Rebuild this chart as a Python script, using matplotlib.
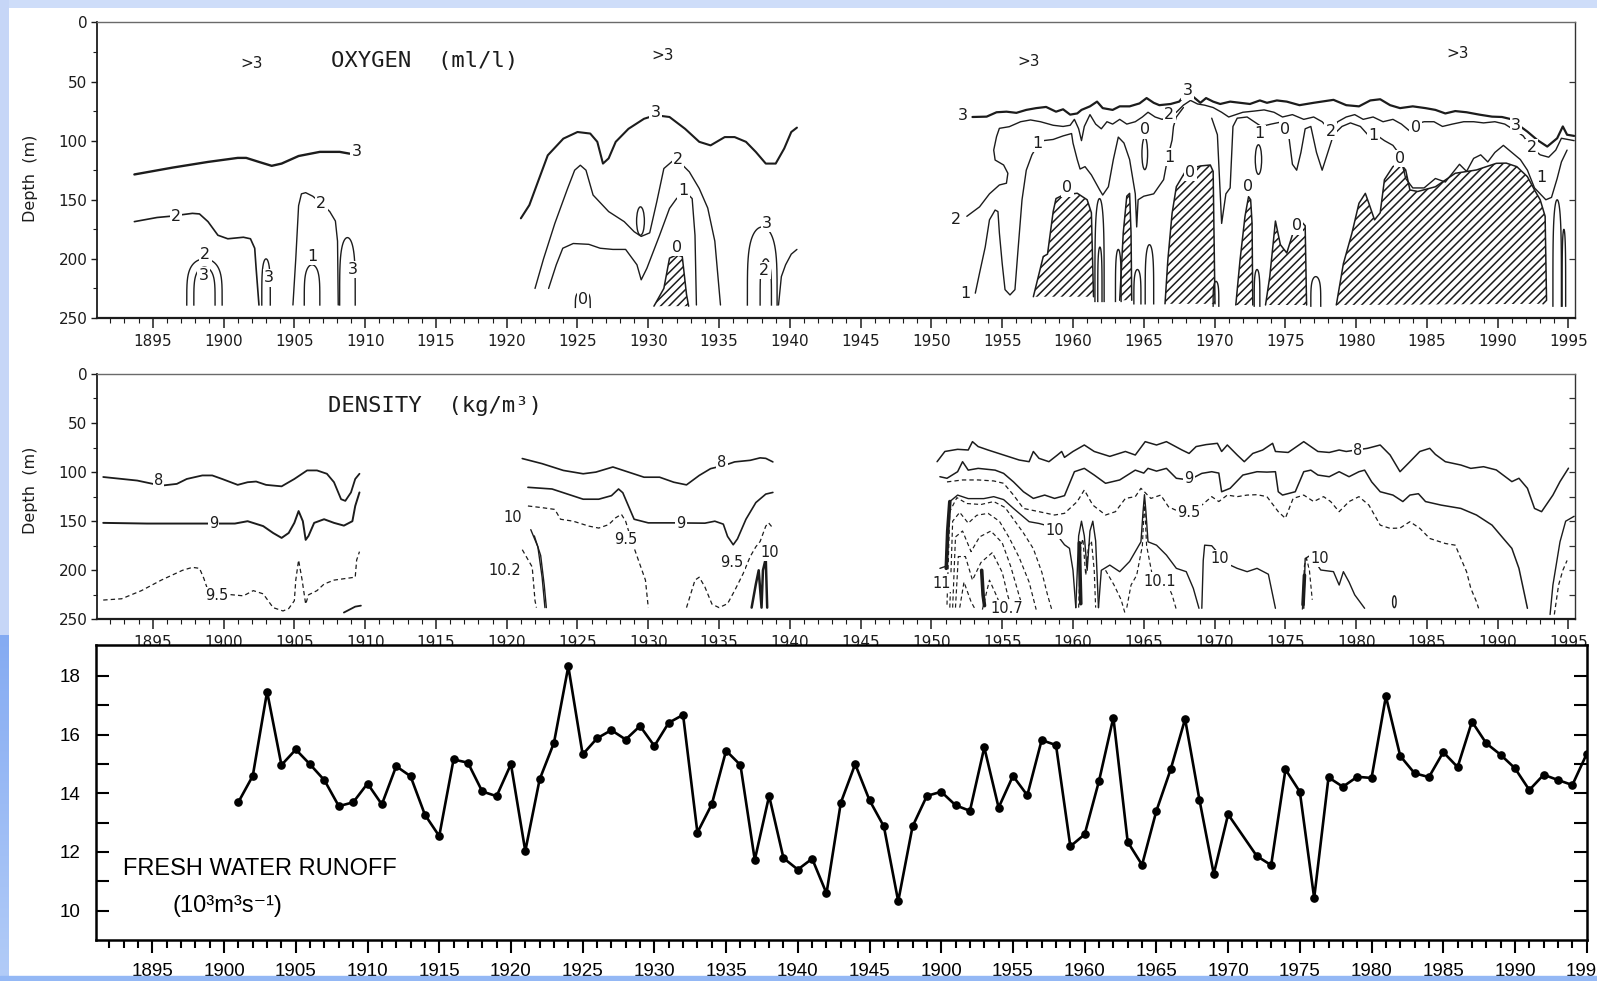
import numpy as np
import matplotlib.pyplot as plt
from matplotlib.patches import Ellipse, Rectangle

W, H = 1597, 981
INK = '#1c1c1c'
plt.rcParams['font.family'] = ['DejaVu Sans']
plt.rcParams['hatch.linewidth'] = 1.1
plt.rcParams['hatch.color'] = INK

# ---------------- RUNOFF DATA ---------------- #
runoff_years = list(range(1901, 1971)) + list(range(1972, 1996))
runoff = [13.70, 14.59, 17.46, 14.96, 15.49, 14.98, 14.44, 13.56, 13.69, 14.33,
          13.62, 14.92, 14.58, 13.27, 12.54, 15.15, 15.04, 14.06, 13.90, 14.99,
          12.03, 14.47, 15.72, 18.32, 15.32, 15.87, 16.15, 15.83, 16.29, 15.61,
          16.40, 16.67, 12.66, 13.62, 15.45, 14.96, 11.73, 13.91, 11.79, 11.40,
          11.77, 10.59, 13.68, 14.99, 13.76, 12.87, 10.32, 12.87, 13.91, 14.05,
          13.59, 13.40, 15.56, 13.51, 14.59, 13.93, 15.81, 15.64, 12.19, 12.60,
          14.42, 16.58, 12.34, 11.56, 13.40, 14.82, 16.53, 13.78, 11.25, 13.28,
          11.86, 11.55, 14.81, 14.05, 10.43, 14.54, 14.22, 14.56, 14.52, 17.30,
          15.27, 14.68, 14.55, 15.40, 14.89, 16.44, 15.70, 15.31, 14.85, 14.11,
          14.63, 14.45, 14.28, 15.34]
year_ticks = list(range(1895, 1996, 5))
runoff_xlabels = ['1895', '1900', '1905', '1910', '1915', '1920', '1925', '1930',
                  '1935', '1940', '1945', '1900', '1955', '1960', '1965', '1970',
                  '1975', '1980', '1985', '1990', '1995']

# ---------------- OXYGEN CONTOURS (year, depth m) ---------------- #
ox1_c3 = [(1893.7, 128.6), (1896.4, 122.8), (1898.9, 118), (1901, 114.6), (1901.6, 114.6),
          (1902.5, 118), (1903.4, 121.3), (1904.1, 119.4), (1905.3, 113), (1906.8, 109.5),
          (1908.2, 109.5), (1908.9, 111)]
ox1_c2 = [(1893.7, 168.5), (1895.3, 165), (1896.2, 164), (1897.8, 161.5), (1898.3, 162),
          (1898.9, 168.5), (1899.6, 180), (1900.3, 183), (1901.4, 181.7), (1901.9, 183),
          (1902.2, 191), (1902.3, 208), (1902.5, 239)]
ox1_c2b = [(1904.9, 239), (1905.1, 200), (1905.3, 155), (1905.5, 145), (1905.8, 144),
           (1906.3, 147), (1906.9, 153), (1907.5, 160), (1907.9, 168), (1908.05, 185),
           (1908.1, 239)]
ox2_c3 = [(1921, 165.7), (1921.6, 154.5), (1922.2, 135), (1922.9, 112.4), (1924, 98.3),
          (1925, 92.7), (1925.9, 94), (1926.4, 101), (1926.8, 119.4), (1927.2, 115),
          (1927.7, 101), (1928.6, 90), (1929.7, 81.5), (1930.5, 78.5), (1931.5, 80),
          (1932.6, 90), (1933.6, 101), (1934.4, 104), (1935.4, 97), (1936.1, 97),
          (1936.9, 101), (1937.6, 109.6), (1938.3, 119.4), (1939, 119.4), (1939.6, 106.7),
          (1940.1, 92.7), (1940.5, 89)]
ox2_c2 = [(1922, 225), (1922.6, 200), (1923.4, 170), (1924.3, 140.5), (1924.8, 125),
          (1925.2, 120.8), (1925.6, 125), (1926.1, 146), (1927.2, 160), (1928.3, 168.5),
          (1929, 177), (1929.5, 181), (1930.1, 178), (1930.6, 151.7), (1931.1, 123.6),
          (1931.7, 117.4), (1932.2, 118), (1932.9, 126.4), (1933.6, 140.5), (1934.2, 157),
          (1934.7, 185), (1935.1, 239)]
ox2_c1 = [(1922.96, 225), (1923.5, 205), (1923.96, 191), (1924.7, 187), (1925.8, 187.7),
          (1926.6, 191), (1927.5, 192), (1928.4, 192), (1929.2, 205), (1929.5, 217.7),
          (1929.9, 208), (1930.8, 180), (1931.5, 157.3), (1932, 149), (1932.6, 143),
          (1933.1, 149), (1933.3, 180), (1933.4, 239)]
ox2_tail = [(1939.2, 239), (1939.4, 215), (1939.7, 205), (1940.1, 196), (1940.5, 192)]
ox3_c3 = [(1952.9, 80), (1953.9, 79.7), (1954.6, 76), (1955.3, 75.5), (1956, 76.5),
          (1956.7, 74), (1957.4, 72.5), (1958.1, 71.5), (1958.8, 75.5), (1959.3, 73.5),
          (1959.8, 78), (1960.3, 77), (1960.6, 74), (1961.2, 71), (1961.7, 67),
          (1962.1, 72.5), (1962.8, 74), (1963.3, 71), (1964, 71), (1964.7, 68.5),
          (1965.2, 64), (1965.7, 68), (1966.1, 70), (1966.9, 69), (1967.5, 67), (1968, 60),
          (1968.5, 63), (1969, 68), (1969.4, 64), (1969.9, 67), (1970.4, 69), (1971.1, 67),
          (1971.8, 68), (1972.5, 69), (1973.2, 66), (1973.7, 68), (1974.4, 66),
          (1975.1, 67), (1976, 70), (1977, 68), (1978.4, 65.5), (1979.3, 70), (1980.2, 71),
          (1981, 66), (1981.7, 65), (1982.4, 70), (1983.1, 72.5), (1984, 71),
          (1984.9, 72.5), (1985.6, 74), (1986.3, 77), (1987, 75), (1987.8, 76),
          (1988.7, 78), (1989.6, 79.7), (1990.3, 80), (1991, 82), (1991.6, 88),
          (1992.1, 92.4), (1992.8, 99.5), (1993.5, 105), (1994.2, 98), (1994.6, 88),
          (1994.9, 95), (1995.4, 96)]
ox3_c2 = [(1952.5, 164), (1953.4, 156), (1954.1, 145), (1954.8, 137.5), (1955.3, 136),
          (1955.4, 127.6), (1955.1, 120.6), (1954.5, 116.4), (1954.4, 108), (1954.6, 96.6),
          (1954.8, 89.6), (1955.5, 88.2), (1956.3, 84), (1957, 82.5), (1957.7, 84),
          (1958.6, 87), (1959.3, 88), (1959.8, 87), (1960.1, 82), (1960.4, 90),
          (1960.6, 100), (1960.8, 88), (1961.2, 78), (1961.6, 86), (1962, 90),
          (1962.4, 84), (1962.8, 86), (1963.3, 82), (1963.8, 86), (1964.4, 84),
          (1964.9, 80), (1965.3, 76), (1965.8, 80), (1966.3, 82), (1966.7, 80),
          (1967.3, 76), (1967.8, 70), (1968.3, 66), (1968.8, 69), (1969.3, 70),
          (1969.9, 72), (1970.5, 76), (1971, 80), (1971.5, 78), (1972, 76), (1972.8, 75),
          (1973.5, 74), (1974.2, 76), (1974.8, 80), (1975.5, 78), (1976.3, 82), (1977, 80),
          (1977.6, 84), (1978.2, 92), (1978.7, 84), (1979.3, 80), (1979.9, 78),
          (1980.5, 82), (1981.2, 80), (1981.9, 84), (1982.6, 82), (1983.2, 86),
          (1983.8, 92), (1984.2, 86), (1984.8, 84), (1985.5, 84), (1986.1, 88),
          (1986.8, 86), (1987.6, 84), (1988.3, 84), (1989, 85), (1989.8, 84),
          (1990.5, 86), (1991.3, 92), (1991.8, 96), (1992.4, 106), (1993, 112),
          (1993.6, 114), (1994.1, 108), (1994.5, 98), (1995.4, 100)]
ox3_c1a = [(1953.1, 229), (1953.4, 212), (1953.8, 190), (1954.1, 167), (1954.5, 158.7),
           (1954.7, 160), (1954.8, 178), (1955, 204), (1955.2, 226), (1955.55, 230.5),
           (1955.9, 226), (1956.1, 195), (1956.4, 150), (1956.7, 125), (1957.1, 112),
           (1957.5, 104), (1957.9, 100), (1958.6, 99), (1959.3, 96), (1959.9, 94),
           (1960, 102), (1960.3, 116), (1960.5, 124), (1960.85, 122), (1961.3, 129),
           (1961.9, 142), (1962.1, 146), (1962.5, 139), (1962.85, 116), (1963.2, 97),
           (1963.6, 102), (1964, 116), (1964.4, 145), (1964.5, 173), (1964.6, 150),
           (1965, 147), (1965.7, 145), (1966.4, 133), (1966.7, 114), (1967, 99.5),
           (1967.1, 88), (1967.3, 80), (1967.8, 72)]
ox3_c1b = [(1969.8, 81), (1970.2, 95), (1970.5, 170), (1970.8, 145), (1971.1, 140),
           (1971.3, 88), (1971.6, 81), (1972.3, 80), (1972.8, 84), (1973.3, 88),
           (1974, 86), (1974.8, 84), (1975.2, 92), (1975.5, 120), (1975.8, 125),
           (1976.1, 110), (1976.4, 90), (1976.8, 88), (1977.2, 110), (1977.6, 125),
           (1978, 110), (1978.4, 95), (1979, 88), (1979.6, 85), (1980.3, 88), (1980.9, 96),
           (1981.4, 95), (1982, 100), (1982.6, 104), (1983.1, 112), (1983.5, 132),
           (1984, 140), (1984.8, 140), (1985.6, 132), (1986.3, 135), (1986.9, 126),
           (1987.3, 120), (1987.8, 126), (1988.3, 115), (1988.8, 112), (1989.3, 118),
           (1989.8, 110), (1990.4, 104), (1991, 110), (1991.6, 116), (1992.1, 125),
           (1992.6, 140), (1993, 145), (1993.4, 150), (1993.8, 148), (1994.2, 132),
           (1994.5, 118), (1994.9, 108)]

# anoxic (0 ml/l) areas, traced from the left foot round to the right foot
ox_zero = [
    [(1930.4, 240), (1931.1, 225), (1931.5, 199.4), (1932, 196.6), (1932.4, 198),
     (1932.7, 230), (1932.85, 240)],
    [(1957.2, 232), (1957.9, 198), (1958.2, 196), (1958.6, 160), (1958.8, 149),
     (1959.3, 146), (1960.3, 144.5), (1961, 150), (1961.3, 161), (1961.45, 232)],
    [(1963.3, 235), (1963.55, 178), (1963.8, 147), (1964, 144.6), (1964.1, 178),
     (1964.15, 235)],
    [(1966.5, 238), (1966.7, 201), (1967, 161.5), (1967.3, 139), (1968, 124.8),
     (1969, 121.4), (1969.7, 120.6), (1969.9, 126), (1970.03, 238)],
    [(1971.5, 239), (1971.8, 201), (1972.15, 164), (1972.4, 147.4), (1972.55, 150),
     (1972.65, 170), (1972.7, 239)],
    [(1973.6, 239), (1973.9, 215), (1974.3, 168), (1974.65, 188), (1975.1, 195),
     (1975.7, 172), (1976.1, 168), (1976.4, 172), (1976.5, 239)],
    [(1978.6, 239), (1979.1, 204), (1979.7, 178.4), (1980.2, 153), (1980.65, 144.6),
     (1980.9, 153), (1981.3, 167), (1981.7, 161), (1982, 133), (1982.6, 122),
     (1983.1, 119), (1983.5, 124.8), (1983.8, 141.7), (1984.35, 143), (1985.6, 139),
     (1987, 127.6), (1988.5, 124.8), (1989.9, 119.2), (1990.6, 119), (1991.35, 122),
     (1992.1, 130.5), (1992.6, 141.7), (1993, 150), (1993.35, 164), (1993.45, 235),
     (1993.2, 238)],
]
# narrow tongues rising from the bottom: left year, right year, top depth, foot depth
ox_arches = [(1897.4, 1899.9, 200, 239), (1897.9, 1899.4, 207, 239),
             (1902.7, 1903.3, 200, 239), (1905.7, 1906.8, 205, 239),
             (1908.2, 1909.3, 182, 239), (1924.85, 1925.9, 227, 241),
             (1937.0, 1939.1, 173, 239), (1937.9, 1938.7, 200, 239),
             (1961.55, 1962.2, 149, 236), (1961.75, 1962.05, 190, 236),
             (1963.0, 1963.4, 192, 236), (1964.3, 1964.8, 209, 238),
             (1965.1, 1965.7, 188, 238), (1969.9, 1970.3, 219, 240),
             (1972.8, 1973.2, 209, 240), (1976.8, 1977.5, 215, 240),
             (1993.9, 1994.5, 150, 240), (1994.55, 1994.8, 175, 240)]
ox_loops = [(1929.45, 168, 0.55, 24), (1965.07, 111, 0.4, 27), (1973.1, 116, 0.45, 25)]
ox_tags = [('3', 1909.4, 109), ('2', 1896.65, 164), ('2', 1898.7, 196), ('3', 1898.6, 214),
           ('3', 1903.2, 216), ('2', 1906.9, 153), ('1', 1906.3, 198), ('3', 1909.1, 209),
           ('3', 1930.5, 76), ('2', 1932.1, 116), ('1', 1932.5, 142), ('0', 1932, 190),
           ('3', 1938.4, 170), ('2', 1938.2, 210), ('0', 1925.4, 234),
           ('3', 1952.2, 79), ('3', 1968.1, 58), ('2', 1966.8, 78), ('1', 1957.5, 102),
           ('1', 1966.8, 114), ('2', 1951.7, 167), ('1', 1952.4, 229), ('0', 1959.6, 140),
           ('0', 1968.3, 127), ('0', 1972.4, 139), ('0', 1975.8, 172), ('0', 1983.1, 115),
           ('0', 1984.2, 89), ('0', 1965.1, 91), ('0', 1975.0, 91), ('1', 1973.2, 94),
           ('1', 1981.2, 96), ('1', 1993.1, 131), ('2', 1978.2, 92), ('2', 1992.4, 106),
           ('3', 1991.3, 87)]
ox_surface = [(1902.0, 35), (1931.0, 28), (1956.9, 33), (1987.2, 26)]

# ---------------- DENSITY CONTOURS (year, depth m) ---------------- #
de1_c8 = [(1891.5, 105), (1893.9, 108.6), (1895.6, 113.8), (1896.7, 112), (1897.4, 107),
          (1898.5, 103.4), (1899.2, 103.4), (1899.9, 107), (1901, 113), (1901.7, 110.3),
          (1902.3, 109.6), (1903, 113), (1904.1, 114.5), (1905, 107), (1905.9, 98.3),
          (1906.6, 98.3), (1907.3, 101.7), (1907.8, 110.3), (1908.3, 127.6),
          (1908.6, 129.3), (1909, 120.7), (1909.3, 107), (1909.6, 101.7)]
de1_c9 = [(1891.5, 151.7), (1894.6, 152.4), (1897.8, 152.4), (1900.8, 152.4),
          (1901.7, 150), (1902.8, 155), (1903.5, 162), (1904.1, 167), (1904.6, 162),
          (1905, 151.7), (1905.3, 139.7), (1905.6, 150), (1905.8, 169), (1906, 165),
          (1906.4, 151.7), (1907.1, 148), (1907.8, 151.7), (1908.5, 154.5), (1909.1, 150),
          (1909.3, 134.5), (1909.6, 120.7)]
de1_c95 = [(1891.5, 230.3), (1892.8, 229), (1894.2, 220.7), (1895.6, 210), (1897.1, 200),
           (1897.8, 197), (1898.3, 198), (1898.6, 208), (1898.9, 220.7), (1899.9, 224),
           (1901.4, 226), (1902.1, 220.7), (1902.8, 224), (1903.5, 238), (1904.2, 241.4),
           (1904.6, 239), (1905, 231), (1905.1, 210), (1905.3, 189.6), (1905.55, 210),
           (1905.8, 234.5), (1906, 225), (1906.6, 220.7), (1907.1, 214), (1907.8, 210),
           (1908.5, 208.6), (1909.3, 207), (1909.4, 189.6), (1909.6, 181)]
de1_stub = [(1908.5, 243), (1909.3, 237), (1909.7, 236)]
de2_c8 = [(1921.1, 86.2), (1922.5, 91.4), (1924, 98.3), (1925.4, 101.7), (1926.3, 100),
          (1927.5, 94.8), (1928.6, 100), (1929.7, 105.2), (1930.8, 105.2), (1931.8, 110.3),
          (1932.7, 113), (1933.6, 103.4), (1934.4, 96.5), (1935.4, 93), (1936.1, 89.6),
          (1937.2, 88), (1937.9, 85.5), (1938.3, 86), (1938.8, 89.6)]
de2_c9 = [(1921.5, 115.5), (1923.2, 117.2), (1924.3, 122.4), (1925.4, 127.6),
          (1926.5, 127.6), (1927.4, 124), (1927.9, 117.2), (1928.2, 121), (1928.6, 134.5),
          (1929, 148), (1930, 151.7), (1931.8, 151.7), (1934, 152), (1934.7, 150),
          (1935.3, 153), (1935.6, 165.5), (1936, 174), (1936.3, 168), (1936.9, 148),
          (1937.6, 131), (1938.3, 122.4), (1938.8, 120.7)]
de2_c95 = [(1921.5, 134.5), (1922.5, 136.2), (1923.4, 138), (1923.8, 148),
           (1924.7, 150), (1925.8, 155), (1926.5, 157), (1927.2, 153.5), (1927.7, 146.5),
           (1928.1, 143), (1928.4, 150), (1928.8, 169), (1929.3, 189.6), (1929.8, 210),
           (1930, 238)]
de2_c95b = [(1932.7, 238), (1933.3, 210), (1933.6, 207), (1934, 217), (1934.5, 234.5),
            (1935, 238), (1935.6, 234), (1936.1, 220.7), (1936.7, 203.4), (1937.2, 186),
            (1937.6, 176), (1937.9, 170.7), (1938.3, 155), (1938.5, 151.7), (1938.8, 157)]
de2_c10 = [(1921.7, 158.6), (1922.2, 176), (1922.5, 207), (1922.7, 238)]
de2_c10b = [(1921.95, 165), (1922.4, 185), (1922.65, 215), (1922.8, 238)]
de2_c102 = [(1921.1, 179), (1921.8, 196.6), (1922, 231), (1922.1, 238)]
de2_deep = [(1937.3, 238), (1937.6, 214), (1937.8, 200), (1938.0, 238), (1938.1, 200),
            (1938.3, 188), (1938.4, 238)]
de3_c8 = [(1950.4, 89.4), (1950.95, 79), (1951.85, 76.8), (1952.6, 77.5), (1952.9, 69),
          (1953.3, 74), (1954, 77.5), (1955.1, 82.6), (1956.2, 87.7), (1956.9, 89.4),
          (1957.2, 79), (1957.6, 86), (1958.3, 89.4), (1958.9, 82.6), (1959.2, 79),
          (1959.4, 85), (1960, 79), (1960.8, 72.4), (1961.5, 79), (1962.6, 84),
          (1963.7, 79), (1964.4, 82.6), (1965.1, 69), (1965.9, 72.4), (1966.6, 69),
          (1967.7, 77.5), (1968.2, 81), (1968.7, 74), (1969.4, 72), (1970.2, 70.7),
          (1970.5, 79), (1970.9, 72.4), (1971.6, 82.6), (1972.1, 89.4), (1972.7, 81),
          (1973.4, 77.5), (1974.1, 70.7), (1974.3, 79), (1975.2, 80), (1976.3, 69),
          (1976.6, 72), (1977.3, 79), (1978.1, 80), (1978.8, 77.5), (1979.3, 79),
          (1980.8, 75.8), (1981.7, 72.4), (1982.4, 82.6), (1983.1, 99.6), (1983.8, 89.4),
          (1984.5, 79), (1985.2, 75.8), (1985.6, 82), (1986.3, 89.4), (1987.4, 92.8),
          (1988.1, 96.2), (1989, 94.5), (1989.9, 97.8), (1991, 109.7), (1991.5, 106.3),
          (1992.1, 116.5), (1992.6, 137), (1993.1, 140.3), (1993.9, 123.4),
          (1994.4, 109.7), (1995, 96)]
de3_c9 = [(1950.6, 104.7), (1951.1, 106.3), (1951.85, 99.6), (1952.2, 89.4),
          (1952.6, 98), (1953.3, 96.2), (1954.5, 98), (1955.1, 101.3), (1955.8, 110),
          (1956.5, 120), (1957.2, 126.8), (1958, 123.4), (1958.7, 126.8), (1959.4, 124),
          (1960.1, 99.6), (1960.8, 96.2), (1961.5, 103), (1962.3, 111.4), (1963.3, 108),
          (1964.4, 98), (1965, 101), (1965.3, 96.2), (1965.9, 99), (1966.6, 96.2),
          (1967.3, 106.3), (1968.2, 108), (1969.1, 101.3), (1969.8, 99.6), (1970.3, 101),
          (1970.5, 120), (1971.1, 116.5), (1972, 103), (1973, 99.6), (1973.7, 100),
          (1974.3, 99.6), (1974.5, 120), (1974.8, 123.4), (1975.7, 120), (1976.3, 99.6),
          (1976.8, 98), (1977.3, 103), (1978.1, 104.7), (1978.8, 99.6), (1979.5, 104.7),
          (1980.2, 99.6), (1980.6, 98), (1981.1, 110), (1981.7, 120), (1982.6, 123.4),
          (1983.3, 130), (1983.8, 123.4), (1984.4, 122), (1984.9, 130), (1986, 133.6),
          (1987.4, 137), (1988.5, 143.7), (1989.6, 154), (1990.4, 167.6), (1991, 177.7),
          (1991.5, 198), (1991.9, 225), (1992.1, 238.7)]
de3_c9_edge = [(1993.7, 245), (1993.9, 215), (1994.4, 171), (1994.8, 150), (1995.4, 145)]
de3_c95 = [(1951.1, 110), (1952.2, 108), (1953.3, 108), (1954.4, 109), (1955.1, 111.4),
           (1955.8, 123.4), (1956.5, 137), (1957.6, 140.3), (1958.7, 143.7),
           (1959.4, 142), (1960.3, 130), (1960.8, 118.2), (1961.4, 133.6), (1962.3, 143.7),
           (1963, 140.3), (1963.7, 126.8), (1964.4, 125), (1964.8, 116.5), (1965.5, 126.8),
           (1966.2, 123.4), (1966.75, 135.4), (1967.5, 140.3), (1968.2, 141),
           (1969.1, 133.6), (1969.8, 125), (1970.3, 130), (1970.9, 123.4), (1971.6, 125),
           (1972.3, 123.4), (1973, 123), (1973.7, 125), (1974.5, 140.3), (1975, 147),
           (1975.55, 126.8), (1976.3, 123.4), (1977, 130), (1977.7, 125), (1978.2, 130),
           (1978.8, 140.3), (1979.5, 130), (1980.2, 125), (1980.9, 133.6), (1981.7, 154),
           (1982.4, 157.3), (1983.1, 157), (1983.8, 150.5), (1984.5, 157.3),
           (1985.2, 167.6), (1986.3, 172.7), (1987, 174.4), (1987.4, 188), (1987.8, 201.4),
           (1988.1, 218.4), (1988.5, 232), (1988.65, 238.7)]
de3_c95_edge = [(1994.0, 245), (1994.3, 215), (1994.6, 200), (1994.9, 190)]
de3_c10 = [
    [(1950.6, 198), (1951.0, 196), (1951.3, 130), (1951.85, 123.4), (1952.6, 127),
     (1953.7, 127), (1954.4, 125), (1955.1, 128), (1955.8, 137), (1956.9, 150.5),
     (1957.6, 152.3), (1958.3, 155), (1958.7, 160.7), (1959.4, 174), (1959.75, 177.6),
     (1960.0, 200), (1960.2, 238)],
    [(1961.8, 238), (1962, 200), (1962.6, 194.7), (1963.3, 201.4), (1964, 191),
     (1964.8, 171), (1964.95, 140), (1965.05, 123), (1965.15, 140), (1965.3, 171),
     (1965.9, 174.4), (1966.6, 184.5), (1967.3, 198), (1968, 201.4), (1968.5, 218.4),
     (1968.9, 238.7)],
    [(1969.1, 238.7), (1969.2, 190), (1969.3, 174.4), (1969.8, 175), (1970.4, 185),
     (1971.1, 194.7), (1971.6, 198), (1972.3, 201.4), (1973, 198), (1973.8, 204),
     (1974.3, 238.7)],
    [(1976.3, 238.7), (1976.4, 188), (1976.8, 184.5), (1977.5, 199.7), (1978.4, 201.4),
     (1978.8, 215), (1979.1, 201.4), (1979.5, 212), (1979.9, 225), (1980.6, 238.7)],
    [(1960.2, 238), (1960.4, 165), (1960.6, 150), (1960.8, 165), (1961.0, 200),
     (1961.2, 160), (1961.4, 150), (1961.6, 170), (1961.8, 238)],
]
# deep, dense water: nested dashed isopycnals
de3_deep = [
    [(1951.1, 235), (1951.3, 140), (1951.8, 126), (1952.5, 132), (1953.5, 133),
     (1954.4, 130), (1955.2, 136), (1955.8, 148), (1956.5, 162), (1957.2, 178),
     (1957.8, 202), (1958.2, 225), (1958.5, 240)],
    [(1951.3, 238), (1951.5, 150), (1952, 141), (1952.6, 152), (1953.2, 144),
     (1954, 142), (1954.8, 150), (1955.5, 167), (1956.2, 187), (1956.9, 212),
     (1957.4, 240)],
    [(1951.5, 238), (1951.7, 166), (1952.2, 160), (1952.8, 181), (1953.4, 166),
     (1954.2, 160), (1955, 172), (1955.6, 196), (1956.2, 226), (1956.5, 240)],
    [(1951.7, 238), (1951.9, 186), (1952.4, 186), (1952.9, 210), (1953.5, 192),
     (1954.3, 182), (1955, 202), (1955.4, 226), (1955.7, 240)],
    [(1952.0, 238), (1952.3, 212), (1952.8, 232), (1953.1, 240)],
    [(1953.6, 240), (1954.1, 210), (1954.6, 226), (1955.0, 240)],
    [(1960.4, 238), (1960.55, 175), (1960.7, 168), (1960.9, 205), (1961.1, 175),
     (1961.3, 170), (1961.5, 200), (1961.6, 238)],
    [(1962.3, 200), (1962.9, 215), (1963.4, 230), (1963.7, 245)],
    [(1963.8, 238), (1964.1, 215), (1964.5, 205), (1964.9, 175), (1965.05, 130),
     (1965.2, 175), (1965.6, 205), (1966.1, 215), (1966.6, 212), (1967, 225),
     (1967.3, 240)],
    [(1976.2, 240), (1976.35, 195), (1976.5, 188), (1976.7, 200), (1976.9, 230)],
]
de3_bold = [[(1951.05, 198), (1951.15, 160), (1951.3, 130)],
            [(1953.55, 200), (1953.65, 225), (1953.75, 236)],
            [(1960.45, 172), (1960.5, 205), (1960.55, 234)],
            [(1976.25, 235), (1976.35, 205)]]
de_loops = [(1982.7, 232, 0.25, 12)]
de_tags = [('8', 1895.4, 109), ('9', 1899.3, 152), ('9.5', 1899.5, 226),
           ('8', 1935.2, 90), ('9', 1932.3, 152), ('9.5', 1928.4, 169), ('9.5', 1935.9, 192),
           ('10', 1920.4, 146), ('10.2', 1919.9, 200), ('10', 1938.6, 182),
           ('8', 1980.1, 77.8), ('9', 1968.2, 107), ('9.5', 1968.2, 141), ('10', 1958.7, 159),
           ('10', 1970.4, 188), ('10', 1977.4, 188), ('10.1', 1966.1, 211), ('11', 1950.75, 213),
           ('10.7', 1955.3, 239)]


# ---------------- DRAWING HELPERS ---------------- #
def trace(ax, pts, lw=1.0, ls='-', z=3):
    xs = [p[0] for p in pts]
    ys = [p[1] for p in pts]
    ax.plot(xs, ys, color=INK, lw=lw, ls=ls, zorder=z,
            solid_joinstyle='round', solid_capstyle='round', dash_capstyle='butt')


def dashed(ax, pts, lw=0.9):
    trace(ax, pts, lw=lw, ls=(0, (3.5, 2.5)))


def arch(ax, x0, x1, top, foot, lw=1.0):
    t = np.linspace(0, np.pi, 40)
    xs = x0 + (x1 - x0) * (1 - np.cos(t)) / 2
    ys = foot - (foot - top) * np.sin(t) ** 0.45
    ax.plot(xs, ys, color=INK, lw=lw, zorder=3)


def shade(ax, pts):
    # hatched fill, outlined on the sides and top only
    xs = [p[0] for p in pts]
    ys = [p[1] for p in pts]
    ax.fill(xs, ys, facecolor='white', edgecolor=INK, hatch='////', lw=0, zorder=2)
    trace(ax, pts, lw=1.1)


def tag(ax, s, x, y, size=11):
    ax.text(x, y, s, fontsize=size, ha='center', va='center', zorder=5, color=INK,
            bbox=dict(boxstyle='square,pad=0.08', fc='white', ec='none'))


def depth_axes(ax, right_ticks):
    ax.set_xlim(1891.06, 1995.46)
    ax.set_ylim(250, 0)
    ax.set_xticks(year_ticks)
    ax.set_xticks(range(1892, 1996), minor=True)
    ax.set_yticks(range(0, 251, 50))
    ax.set_yticks(range(25, 250, 50), minor=True)
    ax.tick_params(axis='x', which='major', direction='out', length=7, width=1.1,
                   pad=4.5, labelsize=11, colors=INK)
    ax.tick_params(axis='x', which='minor', direction='out', length=3.5, width=0.8, colors=INK)
    ax.tick_params(axis='y', which='major', direction='out', length=4, width=1,
                   pad=3, labelsize=11, colors=INK)
    ax.tick_params(axis='y', which='minor', direction='out', length=3, width=0.8, colors=INK)
    ax.spines['bottom'].set_linewidth(1.6)
    ax.spines['left'].set_linewidth(1.3)
    ax.spines['top'].set_linewidth(1.0)
    ax.spines['top'].set_color('#6a6a6a')
    ax.spines['right'].set_linewidth(1.0)
    ax.spines['right'].set_color('#333333')
    ax.spines['bottom'].set_color(INK)
    ax.spines['left'].set_color(INK)
    sec = ax.secondary_yaxis('right')
    sec.set_yticks(right_ticks)
    sec.tick_params(direction='in', length=4, width=0.9, labelright=False, colors='#333333')
    sec.spines['right'].set_visible(False)


# ---------------- FIGURE ---------------- #
fig = plt.figure(figsize=(W / 100, H / 100), dpi=100)

bg = np.ones((H, W, 3))
bg[:8, :] = (0.81, 0.87, 0.98)
bg[:, :9] = (0.78, 0.84, 0.97)
fade = np.linspace(0, 1, H - 635)[:, None, None]
bg[635:, :9] = (1 - fade) * np.array([0.52, 0.67, 0.95]) + fade * np.array([0.70, 0.80, 0.97])
ax_bg = fig.add_axes([0, 0, 1, 1], zorder=-10)
ax_bg.imshow(bg, aspect='auto', interpolation='nearest')
ax_bg.axis('off')

# ---------------- OXYGEN ---------------- #
ax_ox = fig.add_axes([97 / W, 1 - 318 / H, (1575 - 97) / W, (318 - 22.4) / H])
depth_axes(ax_ox, [50, 150, 200])

trace(ax_ox, ox1_c3, lw=1.7)
trace(ax_ox, ox1_c2, lw=1.2)
trace(ax_ox, ox1_c2b)
trace(ax_ox, ox2_c3, lw=1.5)
trace(ax_ox, ox2_c2)
trace(ax_ox, ox2_c1)
trace(ax_ox, ox2_tail)
trace(ax_ox, ox3_c3, lw=1.6)
trace(ax_ox, ox3_c2, lw=1.0)
trace(ax_ox, ox3_c1a)
trace(ax_ox, ox3_c1b)
for area in ox_zero:
    shade(ax_ox, area)
for x0, x1, top, foot in ox_arches:
    arch(ax_ox, x0, x1, top, foot)
for cx, cy, w, h in ox_loops:
    ax_ox.add_patch(Ellipse((cx, cy), w, h, fill=False, ec=INK, lw=1.0, zorder=3))
for s, x, y in ox_tags:
    tag(ax_ox, s, x, y, size=11.5)
for x, y in ox_surface:
    ax_ox.text(x, y, '>3', fontsize=11, ha='center', va='center', color=INK)
ax_ox.text(1907.6, 33, 'OXYGEN  (ml/l)', family='DejaVu Sans Mono', fontsize=16,
           va='center', ha='left', color=INK)

# ---------------- DENSITY ---------------- #
ax_de = fig.add_axes([97 / W, 1 - 619.4 / H, (1575 - 97) / W, (619.4 - 373.9) / H])
depth_axes(ax_de, list(range(25, 250, 25)))

trace(ax_de, de1_c8, lw=1.3)
trace(ax_de, de1_c9, lw=1.4)
dashed(ax_de, de1_c95)
trace(ax_de, de1_stub, lw=1.3)
trace(ax_de, de2_c8, lw=1.2)
trace(ax_de, de2_c9, lw=1.2)
dashed(ax_de, de2_c95)
dashed(ax_de, de2_c95b)
trace(ax_de, de2_c10)
trace(ax_de, de2_c10b)
dashed(ax_de, de2_c102)
trace(ax_de, de2_deep, lw=1.8)
trace(ax_de, de3_c8, lw=1.1)
trace(ax_de, de3_c9, lw=1.1)
trace(ax_de, de3_c9_edge)
dashed(ax_de, de3_c95)
dashed(ax_de, de3_c95_edge)
for seg in de3_c10:
    trace(ax_de, seg, lw=1.0)
for seg in de3_deep:
    dashed(ax_de, seg, lw=0.85)
for seg in de3_bold:
    trace(ax_de, seg, lw=2.6)
for cx, cy, w, h in de_loops:
    ax_de.add_patch(Ellipse((cx, cy), w, h, fill=False, ec=INK, lw=1.0, zorder=3))
for s, x, y in de_tags:
    tag(ax_de, s, x, y, size=10.5)
ax_de.text(1907.4, 33, 'DENSITY  (kg/m³)', family='DejaVu Sans Mono', fontsize=16,
           va='center', ha='left', color=INK)

for yc in (178, 490):
    fig.text(31 / W, 1 - yc / H, 'Depth  (m)', rotation=90, ha='center', va='center',
             fontsize=11.5, color=INK)

# ---------------- FRESH WATER RUNOFF ---------------- #
ax_ru = fig.add_axes([95.7 / W, 1 - 940 / H, (1586.7 - 95.7) / W, (940 - 645) / H])
ax_ru.plot(runoff_years, runoff, color='black', lw=1.9, marker='o', ms=5.2,
           mfc='black', mec='black', zorder=3)
ax_ru.set_xlim(1891.05, 1995.0)
ax_ru.set_ylim(9.0, 19.05)
ax_ru.set_xticks(year_ticks)
ax_ru.set_xticklabels(runoff_xlabels)
ax_ru.set_xticks(range(1892, 1996), minor=True)
ax_ru.set_yticks(range(10, 19))
ax_ru.set_yticklabels([str(v) if v % 2 == 0 else '' for v in range(10, 19)])
ax_ru.tick_params(axis='x', which='major', direction='out', length=9.5, width=1.5,
                  pad=7, labelsize=13.5)
ax_ru.tick_params(axis='x', which='minor', direction='out', length=6, width=1.5)
ax_ru.tick_params(axis='y', which='both', direction='in', length=9.5, width=1.5,
                  left=True, right=True, pad=11, labelsize=13.5)
for lab in ax_ru.get_xticklabels() + ax_ru.get_yticklabels():
    lab.set_family('Liberation Sans')
for s in ax_ru.spines.values():
    s.set_linewidth(1.8)
fig.text(123 / W, 1 - 875 / H, 'FRESH WATER RUNOFF', family='Liberation Sans',
         fontsize=17, va='baseline', ha='left')
fig.text(172 / W, 1 - 912 / H, '(10³m³s⁻¹)', family=['Liberation Sans', 'DejaVu Sans'],
         fontsize=17, va='baseline', ha='left')

fig.add_artist(Rectangle((0, 0), 1, 5 / H, transform=fig.transFigure,
                         color=(0.58, 0.72, 0.96), zorder=20))

fig.savefig('out.png', dpi=100)
